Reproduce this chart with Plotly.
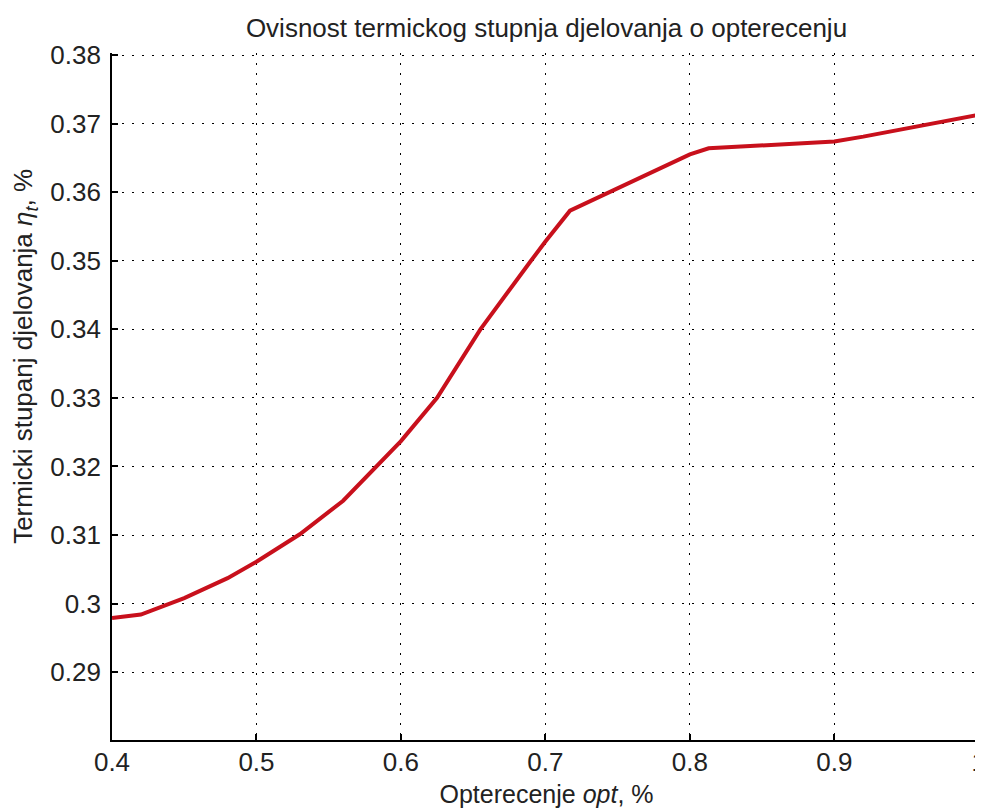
import plotly.graph_objects as go

# Data
opterecenje = [0.40, 0.42, 0.45, 0.48, 0.50, 0.53, 0.56, 0.60, 0.625, 0.655,
               0.69, 0.70, 0.717, 0.76, 0.80, 0.813, 0.84, 0.90, 0.92, 1.00]
stupanj = [0.2979, 0.2984, 0.3008, 0.3037, 0.3061, 0.3101, 0.3150, 0.3237, 0.3300, 0.3400,
           0.3500, 0.3528, 0.3573, 0.3615, 0.3655, 0.3664, 0.3667, 0.3674, 0.3681, 0.3713]

x_ticks = [0.4, 0.5, 0.6, 0.7, 0.8, 0.9, 1.0]
x_ticklabels = ["0.4", "0.5", "0.6", "0.7", "0.8", "0.9", "1"]
y_ticks = [0.29, 0.30, 0.31, 0.32, 0.33, 0.34, 0.35, 0.36, 0.37, 0.38]
y_ticklabels = ["0.29", "0.3", "0.31", "0.32", "0.33", "0.34", "0.35", "0.36", "0.37", "0.38"]

title_text = "Ovisnost termickog stupnja djelovanja o opterecenju"
x_title = "Opterecenje <i>opt</i>, %"
y_title = "Termicki stupanj djelovanja <i>η<sub>t</sub></i>, %"

FONT = "Liberation Sans, Arial, sans-serif"
TXT = "#222222"

fig = go.Figure()
fig.add_trace(go.Scatter(
    x=opterecenje, y=stupanj, mode="lines",
    line=dict(color="#c8101c", width=4),
    showlegend=False, hoverinfo="skip",
))

axis_common = dict(
    showgrid=True, gridcolor="black", gridwidth=1, griddash="2px,8px",
    showline=True, linecolor="black", linewidth=1.8,
    ticks="inside", ticklen=6, tickcolor="black", tickwidth=1.5,
    zeroline=False, mirror=False, automargin=False,
    tickfont=dict(family=FONT, size=26, color=TXT),
)

fig.update_layout(
    width=975, height=802,
    margin=dict(l=104, r=2, t=45, b=70),
    paper_bgcolor="white", plot_bgcolor="white",
    font=dict(family=FONT, color=TXT),
    title=dict(text=title_text, x=0.5, xref="paper", xanchor="center",
               y=0.975, yanchor="middle",
               font=dict(family=FONT, size=26, color=TXT)),
    xaxis=dict(range=[0.4, 1.0015], tickvals=x_ticks, ticktext=x_ticklabels,
               ticklabeloverflow="allow", ticklabelstandoff=-2,
               title=dict(text=x_title, font=dict(family=FONT, size=25, color=TXT), standoff=9),
               **axis_common),
    yaxis=dict(range=[0.2801, 0.3803], tickvals=y_ticks, ticktext=y_ticklabels,
               ticklabelstandoff=4,
               **axis_common),
    annotations=[dict(text=y_title, textangle=-90, xref="paper", yref="paper",
                      x=-0.1001, y=0.5577, xanchor="center", yanchor="middle",
                      showarrow=False, font=dict(family=FONT, size=26, color=TXT))],
)

fig.write_html("out.html")
